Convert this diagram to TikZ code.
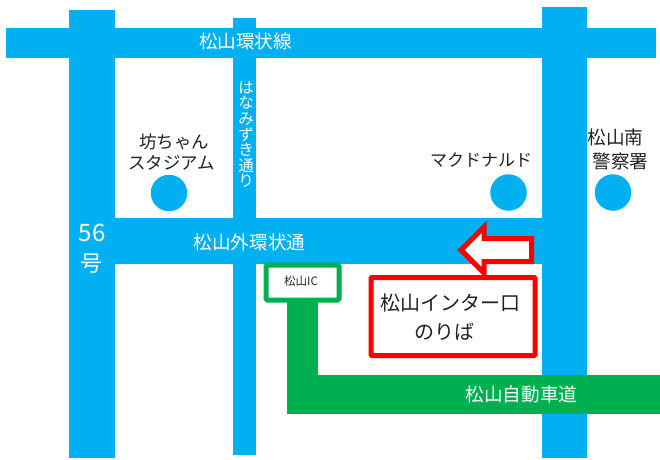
\documentclass[tikz,border=0pt]{standalone}
\usepackage{fontspec}
\setmainfont{Noto Sans CJK JP}
\definecolor{roadblue}{HTML}{00B0F0}
\definecolor{roadgreen}{HTML}{00B050}
\definecolor{inkdark}{HTML}{222222}
\tikzset{
  road/.style={fill=roadblue,draw=none},
  highway/.style={fill=roadgreen,draw=none},
  spot/.style={circle,fill=roadblue,draw=none,minimum size=36.5pt,inner sep=0pt},
  roadlabel/.style={text=white,font=\fontsize{18.6}{18.6}\selectfont,inner sep=0pt},
  spotlabel/.style={text=inkdark,font=\fontsize{18.6}{22}\selectfont,inner sep=0pt,align=center},
}
\begin{document}
\begin{tikzpicture}[x=1pt,y=-1pt]
\useasboundingbox (0,0) rectangle (660,459);
% blue roads
\fill[road] (6,28) rectangle (656,58);
\fill[road] (69,10) rectangle (115,458);
\fill[road] (233,18) rectangle (256,455);
\fill[road] (542,7) rectangle (587,458);
\fill[road] (69,218) rectangle (542,264);
% expressway
\fill[highway] (287,300) rectangle (318,414);
\fill[highway] (287,375) rectangle (660,414);
% IC box
\node[draw=roadgreen,line width=5pt,fill=white,rounded corners=1.5pt,minimum width=73pt,minimum height=35pt,inner sep=0pt] (ic) at (302.5,282.5) {};
\node[text=inkdark,font=\fontsize{11.5}{11.5}\selectfont,inner sep=0pt] (iclabel) at (301,281) {松山IC};
% spots
\node[spot] (stadium) at (169,193) {};
\node[spot] (mac) at (508.5,192.5) {};
\node[spot] (police) at (613,192.5) {};
% red arrow
\draw[red,line width=5pt,fill=white,miter limit=10] (531.5,238.5) -- (484,238.5) -- (484,227) -- (461,250) -- (484,273) -- (484,261.5) -- (531.5,261.5) -- cycle;
% red box
\node[draw=red,line width=5pt,fill=white,rounded corners=1pt,minimum width=164pt,minimum height=78pt,inner sep=0pt] (board) at (453,316.5) {};
\node[inner sep=0pt,text=inkdark,font=\fontsize{20}{20}\selectfont] (boardA) at (450.5,303) {松山インター口};
\node[inner sep=0pt,text=inkdark,font=\fontsize{20}{20}\selectfont] (boardB) at (444.5,332) {のりば};
% labels
\node[roadlabel] (ring) at (245.5,41) {松山環状線};
\node[roadlabel] (outer) at (249.5,242) {松山外環状通};
\node[roadlabel] (exp) at (521.5,394) {松山自動車道};
\node[roadlabel,font=\fontsize{24}{24}\selectfont] (n56) at (92,233) {56};
\node[roadlabel,font=\fontsize{22}{22}\selectfont] (go) at (91,264) {号};
\node[text=white,font=\fontsize{15.5}{15.6}\selectfont,inner sep=0pt,align=center] (hana) at (246,134.5) {は\\な\\み\\ず\\き\\通\\り};
\node[spotlabel,font=\fontsize{17.5}{17.5}\selectfont] (t1a) at (174,142) {坊ちゃん};
\node[spotlabel,font=\fontsize{17.5}{17.5}\selectfont] (t1b) at (171.5,163) {スタジアム};
\node[spotlabel,font=\fontsize{17}{17}\selectfont] (t2) at (481,160) {マクドナルド};
\node[spotlabel] (t3a) at (615.5,137) {松山南};
\node[spotlabel] (t3b) at (620.5,161) {警察署};
\end{tikzpicture}
\end{document}
